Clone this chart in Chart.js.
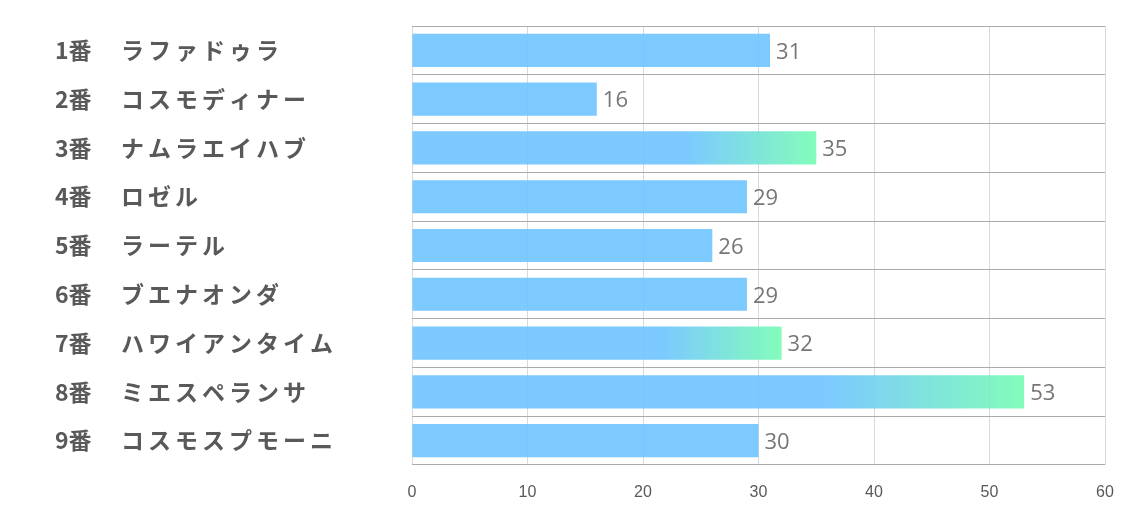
<!DOCTYPE html>
<html>
<head>
<meta charset="utf-8">
<script src="https://cdn.jsdelivr.net/npm/chart.js@4"></script>
<style>
  body { margin: 0; background: #fff; }
  .graph-container { width: 1134px; height: 510px; }
</style>
</head>
<body>
<div class="graph-container"><canvas id="chart"></canvas></div>
<script>
const numbers = ["1番", "2番", "3番", "4番", "5番", "6番", "7番", "8番", "9番"];
const horses = ["ラファドゥラ", "コスモディナー", "ナムラエイハブ", "ロゼル", "ラーテル", "ブエナオンダ", "ハワイアンタイム", "ミエスペランサ", "コスモスプモーニ"];
const values = [31, 16, 35, 29, 26, 29, 32, 53, 30];
const xTicks = [0, 10, 20, 30, 40, 50, 60];

const labels = numbers.map((n, i) => n + "　" + horses[i]);
const top3 = [...values].sort((a, b) => b - a).slice(0, 3);

const BLUE = "rgba(110,196,255,0.9)";
const GREEN = "rgba(120,252,180,0.92)";

// y labels drawn by hand so letter spacing can be applied
const leftLabels = {
  id: "leftLabels",
  afterDraw(chart) {
    const ctx = chart.ctx;
    const y = chart.scales.y;
    ctx.save();
    ctx.fillStyle = "#595959";
    ctx.textBaseline = "middle";
    labels.forEach((l, i) => {
      const py = y.getPixelForValue(i);
      ctx.font = "bold 23px 'Noto Sans CJK JP'";
      ctx.letterSpacing = "0px";
      ctx.fillText(numbers[i], 55, py);
      ctx.letterSpacing = "4px";
      ctx.fillText(horses[i], 121, py);
    });
    ctx.restore();
  }
};

const valueLabels = {
  id: "valueLabels",
  afterDatasetsDraw(chart) {
    const ctx = chart.ctx;
    const meta = chart.getDatasetMeta(0);
    ctx.save();
    ctx.fillStyle = "#767676";
    ctx.font = "22px 'Open Sans'";
    ctx.textBaseline = "middle";
    meta.data.forEach((bar, i) => {
      ctx.fillText(values[i], bar.x + 6, bar.y + 2);
    });
    ctx.restore();
  }
};

new Chart(document.getElementById("chart"), {
  type: "bar",
  data: {
    labels,
    datasets: [{
      data: values,
      backgroundColor: (c) => {
        const v = values[c.dataIndex];
        const chart = c.chart;
        if (!chart.chartArea || !top3.includes(v)) return BLUE;
        const x = chart.scales.x;
        const g = chart.ctx.createLinearGradient(x.getPixelForValue(v * 0.68), 0, x.getPixelForValue(v), 0);
        g.addColorStop(0, BLUE);
        g.addColorStop(1, GREEN);
        return g;
      },
      barPercentage: 0.68,
      categoryPercentage: 1,
    }],
  },
  options: {
    indexAxis: "y",
    responsive: true,
    maintainAspectRatio: false,
    animation: false,
    layout: { padding: { top: 26, right: 29, left: 0, bottom: 0 } },
    plugins: { legend: { display: false }, tooltip: { enabled: false } },
    scales: {
      x: {
        min: 0,
        max: 60,
        afterBuildTicks: (s) => { s.ticks = xTicks.map((v) => ({ value: v })); },
        afterFit: (s) => { s.height = 45; },
        grid: { color: "#d9d9d9", drawTicks: false },
        border: { display: false },
        ticks: { color: "#595959", padding: 18, font: { family: "'Liberation Sans Narrow', 'Liberation Sans'", size: 16 } },
      },
      y: {
        afterFit: (s) => { s.width = 412; },
        grid: { color: "#ababab", drawTicks: false, offset: true },
        border: { display: false },
        ticks: { display: false },
      },
    },
  },
  plugins: [leftLabels, valueLabels],
});
</script>
</body>
</html>
